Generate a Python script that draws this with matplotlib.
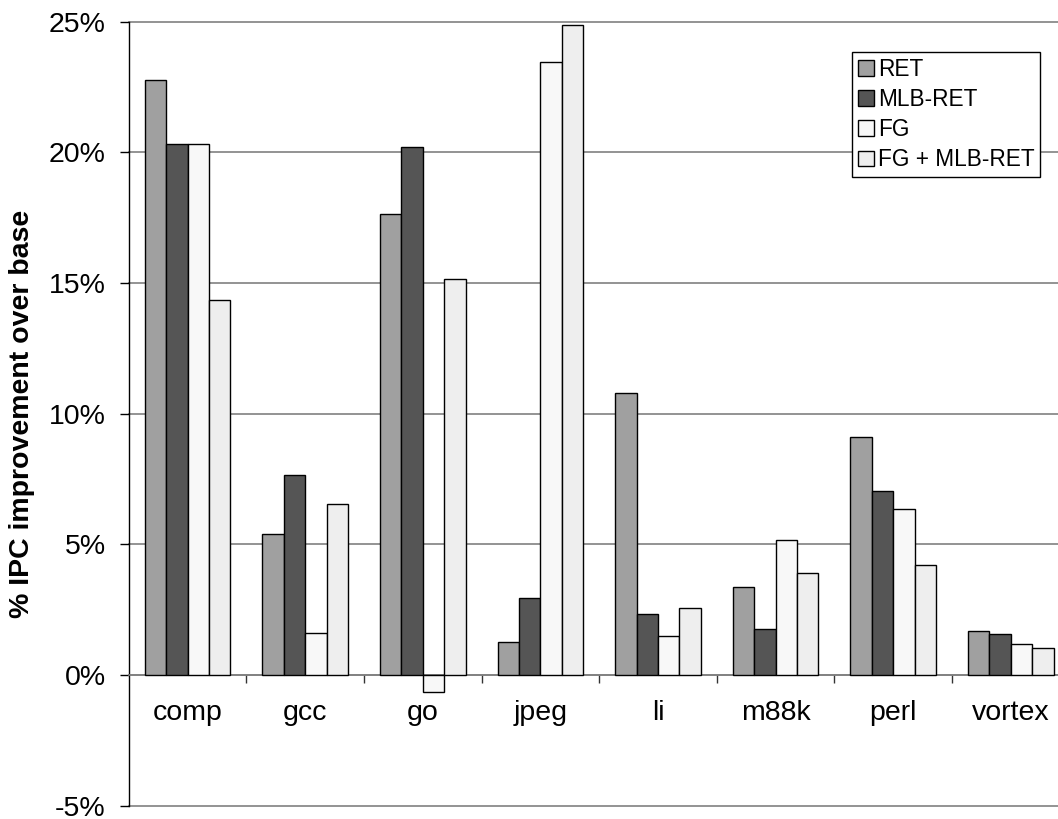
import matplotlib
matplotlib.use('Agg')
import matplotlib.pyplot as plt
import numpy as np

plt.rcParams['font.family'] = ['Liberation Sans', 'DejaVu Sans']

benchmarks = ['comp', 'gcc', 'go', 'jpeg', 'li', 'm88k', 'perl', 'vortex']
series = ['RET', 'MLB-RET', 'FG', 'FG + MLB-RET']
ret = [22.75, 5.4, 17.65, 1.25, 10.8, 3.35, 9.1, 1.7]
mlb_ret = [20.3, 7.65, 20.2, 2.95, 2.35, 1.75, 7.05, 1.55]
fg = [20.3, 1.6, -0.65, 23.45, 1.5, 5.15, 6.35, 1.2]
fg_mlb = [14.35, 6.55, 15.15, 24.85, 2.55, 3.9, 4.2, 1.05]
colors = ['#a0a0a0', '#555555', '#f8f8f8', '#eeeeee']
yticks = [-5, 0, 5, 10, 15, 20, 25]

W, H = 1058, 819
fig = plt.figure(figsize=(W / 100, H / 100), dpi=100)
# axes runs a bit past the right edge, like the original
ax = fig.add_axes([128.7 / W, 1 - 805.7 / H, (1069.6 - 128.7) / W, (805.7 - 21.5) / H])

x = np.arange(len(benchmarks)) + 0.5
bw = 0.182
for k, (vals, name) in enumerate(zip([ret, mlb_ret, fg, fg_mlb], series)):
    ax.bar(x + (k - 1.5) * bw, vals, bw, color=colors[k], edgecolor='black',
           linewidth=1.0, label=name, zorder=3)

for y in yticks:
    ax.axhline(y, color='#808080', lw=1.2, zorder=1, clip_on=False)

ax.set_xlim(0, len(benchmarks))
ax.set_ylim(-5, 25)
ax.set_yticks(yticks)
ax.set_yticklabels([f'{v}%' for v in yticks])

ax.set_xticks(np.arange(1, len(benchmarks)))
ax.set_xticklabels([])
ax.set_xticks(x, minor=True)
ax.set_xticklabels(benchmarks, minor=True)
ax.tick_params(axis='x', which='major', direction='out', length=6, width=1, color='#333333')
ax.tick_params(axis='x', which='minor', length=0, pad=18, labelsize=20.5)
ax.tick_params(axis='y', direction='out', length=6.5, width=1, pad=10, labelsize=20.5)

ax.spines['top'].set_visible(False)
ax.spines['right'].set_visible(False)
ax.spines['bottom'].set_position(('data', 0))
ax.spines['bottom'].set_color('#808080')
ax.spines['bottom'].set_linewidth(1.2)
ax.spines['left'].set_linewidth(1.0)

fig.text(22 / W, 1 - 413.6 / H, '% IPC improvement over base', rotation=90,
         ha='center', va='center', fontsize=20.5, fontweight='bold')

leg = fig.legend(loc='upper left', bbox_to_anchor=(852 / W, 1 - 52 / H),
                 fontsize=16.3, frameon=True, fancybox=False, edgecolor='black',
                 framealpha=1, handlelength=0.7, handleheight=0.7,
                 handletextpad=0.2, labelspacing=0.32, borderpad=0.25,
                 borderaxespad=0)
leg.get_frame().set_linewidth(1.0)

fig.savefig('out.png', dpi=100)
